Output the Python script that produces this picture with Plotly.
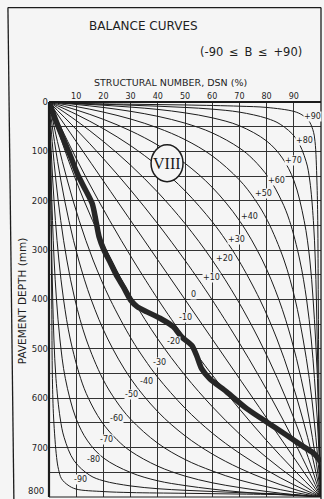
import plotly.graph_objects as go

# ---- data: structural number DSN (%) against pavement depth (mm) ----
BALANCE_NUMBERS = [90, 80, 70, 60, 50, 40, 30, 20, 10, 0,
                   -10, -20, -30, -40, -50, -60, -70, -80, -90]
BALANCE_LABELS = ["+90", "+80", "+70", "+60", "+50", "+40", "+30", "+20", "+10", "0",
                  "-10", "-20", "-30", "-40", "-50", "-60", "-70", "-80", "-90"]

B_P90 = [(0, 0), (10, 3), (30, 4.5), (50, 6), (70, 8.5), (80, 11), (90, 19), (93, 26),
         (95.4, 37), (97, 56), (97.8, 80), (98.5, 160), (98.8, 240), (99, 400), (99.2, 560),
         (99.4, 700), (100, 800)]
B_P80 = [(0, 0), (10, 2.5), (20, 4.5), (30, 6.5), (40, 8.5), (50, 11), (60, 14.5), (70, 20.5), (80, 33),
         (85, 45), (90.8, 73.6), (94.5, 120), (95.9, 160), (97.2, 240), (97.9, 320), (98.3, 400),
         (98.6, 480), (98.9, 560), (99.1, 640), (99.4, 720), (100, 800)]
B_P70 = [(0, 0), (10, 3.5), (20, 6.5), (30, 10.3), (40, 15), (50, 22), (60, 32), (70, 48.1), (80, 79),
         (85.8, 113.6), (90.1, 160), (93.8, 240), (95.9, 320), (97.1, 400), (98, 480), (98.7, 560),
         (99.2, 640), (99.6, 720), (100, 800)]
B_P60 = [(0, 0), (10, 5), (20, 11.1), (30, 18.9), (40, 29), (50, 42.8), (60, 62.5), (70, 93.1), (75, 115.9),
         (80.8, 153.6), (85.5, 200), (88.4, 240), (92.2, 320), (94.7, 400), (96.4, 480), (97.6, 560),
         (98.6, 640), (99.4, 720), (100, 800)]
B_P50 = [(0, 0), (10, 9.25), (20, 20.5), (30, 34.5), (40, 52.5), (50, 76.2), (60, 109.1), (70, 157.8),
         (75.5, 196), (80.3, 240), (86.4, 320), (90.5, 400), (93.4, 480), (95.7, 560), (97.4, 640),
         (98.8, 720), (100, 800)]
B_P40 = [(0, 0), (10, 16), (20, 35.1), (30, 58.4), (40, 87.3), (50, 124.2), (60, 172.8), (70, 240),
         (78.4, 320), (84.5, 400), (89.1, 480), (92.7, 560), (95.6, 640), (98, 720), (100, 800)]
B_P30 = [(0, 0), (10, 25), (20, 54.1), (30, 88.4), (40, 129.6), (50, 179.8), (60, 242.4), (65, 280),
         (69.7, 320), (77.5, 400), (83.8, 480), (88.9, 560), (93.2, 640), (96.9, 720), (100, 800)]
B_P20 = [(0, 0), (10, 37.6), (20, 80), (30, 128), (40, 182.9), (50, 246.2), (60, 320), (69.2, 400),
         (77.1, 480), (84, 560), (90, 640), (95.3, 720), (100, 800)]
B_P10 = [(0, 0), (10, 55.4), (20, 114.7), (30, 178.3), (40, 246.8), (50, 320.8), (55, 360), (59.9, 400),
         (69.1, 480), (77.7, 560), (85.7, 640), (93.1, 720), (100, 800)]
B_0 = [(0, 0), (50, 400), (100, 800)]
B_M10 = [(0, 0), (6.9, 80), (14.3, 160), (22.3, 240), (30.9, 320), (40.1, 400), (45, 440), (50, 479.2),
         (60, 552.8), (70, 621.6), (80, 685.6), (90, 744.8), (100, 800)]
B_M20 = [(0, 0), (4.7, 80), (10, 160), (16, 240), (22.9, 320), (30.8, 400), (40, 480), (50, 553.6),
         (60, 616.8), (70, 672), (80, 720), (90, 762.4), (100, 800)]
B_M30 = [(0, 0), (3.1, 80), (6.8, 160), (11.1, 240), (16.2, 320), (22.5, 400), (30.3, 480), (35, 520),
         (40, 557.6), (50, 620), (60, 670.4), (70, 711.2), (80, 745.6), (90, 775.2), (100, 800)]
B_M40 = [(0, 0), (2, 80), (4.4, 160), (7.3, 240), (10.9, 320), (15.5, 400), (21.6, 480), (30, 560),
         (40, 627.2), (50, 676), (60, 712.8), (70, 741.6), (80, 764.8), (90, 784), (100, 800)]
B_M50 = [(0, 0), (1.16, 80), (2.56, 160), (4.31, 240), (6.56, 320), (9.53, 400), (13.64, 480), (19.7, 560),
         (24.5, 604), (30, 642.4), (40, 691.2), (50, 724), (60, 747.2), (70, 765.6), (80, 779.2),
         (90, 790.4), (100, 800)]
B_M60 = [(0, 0), (0.62, 80), (1.39, 160), (2.36, 240), (3.63, 320), (5.35, 400), (7.81, 480), (11.64, 560),
         (14.49, 600), (19.2, 646.4), (25, 684), (30, 707.2), (40, 737.6), (50, 757.6), (60, 771.2),
         (70, 780.8), (80, 788.8), (90, 795.2), (100, 800)]
B_M70 = [(0, 0), (0.44, 80), (0.81, 160), (1.29, 240), (1.88, 320), (2.75, 400), (4, 480), (6.01, 560),
         (9.87, 640), (14.2, 686.4), (20, 720.8), (30, 750.4), (40, 767.2), (50, 776.8), (60, 784),
         (70, 789.6), (80, 793.6), (90, 796.8), (100, 800)]
B_M80 = [(0, 0), (0.31, 80), (0.56, 160), (0.81, 240), (1.06, 320), (1.37, 400), (1.81, 480), (2.56, 560),
         (4.1, 640), (5.6, 680), (9.2, 726.4), (15, 756), (20, 767.2), (30, 777.6), (40, 783.2),
         (50, 786.4), (60, 788.8), (70, 791.2), (80, 792.8), (90, 795.2), (100, 800)]
B_M90 = [(0, 0), (0.5, 80), (0.75, 240), (1.0, 400), (1.25, 560), (1.7, 640), (2.8, 720), (3.5, 744),
         (4.6, 763), (7, 776), (10, 784), (20, 789), (30, 791), (50, 792.5), (70, 794), (90, 796),
         (100, 800)]

BALANCE_CURVES = [B_P90, B_P80, B_P70, B_P60, B_P50, B_P40, B_P30, B_P20, B_P10, B_0,
                  B_M10, B_M20, B_M30, B_M40, B_M50, B_M60, B_M70, B_M80, B_M90]

# measured DCP profile (heavy line)
PROFILE_DSN = [0, 2.7, 5.5, 8, 10.4, 13.5, 15.9, 17.2, 18.4, 20.2, 22.7, 25.1, 27.6, 30, 32.5, 36,
               40.8, 45.7, 48.8, 52.5, 54.3, 56.1, 59.2, 65.3, 72.7, 80, 87.4, 93.8, 97.4, 99.9]
PROFILE_DEPTH = [0, 40, 78, 111, 145, 179, 206, 239, 273, 300, 327, 354, 377, 401, 415, 425,
                 438, 455, 476, 493, 514, 540, 561, 587, 621, 648, 675, 699, 712, 729]

DSN_TICKS = [10, 20, 30, 40, 50, 60, 70, 80, 90]
DEPTH_TICKS = [0, 100, 200, 300, 400, 500, 600, 700]
DEPTH_MAX = 800

# label anchor points (DSN %, depth mm) for the curve numbers
LABEL_POS = [(96.7, 30), (94.1, 78), (89.8, 118), (83.7, 158), (79.0, 186), (73.6, 232), (69.0, 279),
             (64.7, 316), (59.8, 356), (53.0, 389), (50.0, 436), (45.7, 486), (40.8, 528), (35.9, 567),
             (30.4, 593), (24.9, 642), (21.0, 683), (16.5, 725), (11.4, 764)]

# ---- styling ----
BG = "#f5f5f5"
INK = "#1c1c1c"
GRID = "#333333"
TEXT = "#1e1e1e"
FONT = "DejaVu Sans"

fig = go.Figure()

for b, pts in zip(BALANCE_NUMBERS, BALANCE_CURVES):
    fig.add_trace(go.Scatter(
        x=[p[0] for p in pts], y=[p[1] for p in pts], mode="lines",
        line=dict(color=INK, width=1, shape="spline", smoothing=1.0),
        name=f"B = {b}", hoverinfo="skip", showlegend=False))

fig.add_trace(go.Scatter(
    x=PROFILE_DSN, y=PROFILE_DEPTH, mode="lines",
    line=dict(color="#262626", width=5.5, shape="spline", smoothing=0.7),
    hoverinfo="skip", showlegend=False))

fig.update_layout(
    width=324, height=499, autosize=False,
    margin=dict(l=49, r=3, t=101.5, b=2, pad=0),
    paper_bgcolor=BG, plot_bgcolor=BG,
    showlegend=False,
    font=dict(family=FONT, color=TEXT),
    xaxis=dict(range=[0, 100], side="top", tickmode="array", tickvals=DSN_TICKS,
               ticktext=[str(v) for v in DSN_TICKS], ticks="", showline=False, zeroline=False,
               showgrid=True, gridcolor=GRID, gridwidth=1, automargin=False,
               tickfont=dict(family=FONT, size=8, color=TEXT), fixedrange=True),
    yaxis=dict(range=[DEPTH_MAX, 0], tickmode="array", tickvals=DEPTH_TICKS,
               ticktext=[str(v) for v in DEPTH_TICKS], ticks="", showline=False, zeroline=False,
               showgrid=True, gridcolor=GRID, gridwidth=1, automargin=False,
               minor=dict(tick0=0, dtick=50, showgrid=True, gridcolor=GRID, gridwidth=1),
               tickfont=dict(family=FONT, size=8.5, color=TEXT), fixedrange=True),
)

shapes = [
    # outer frame
    dict(type="line", xref="paper", yref="paper", x0=-0.151, y0=1.239, x1=1.0, y1=1.239,
         line=dict(color=INK, width=1.3)),
    dict(type="line", xref="paper", yref="paper", x0=-0.151, y0=1.239, x1=-0.129, y1=-0.01,
         line=dict(color=INK, width=1.3)),
    dict(type="line", xref="paper", yref="paper", x0=1.0, y0=1.239, x1=1.0, y1=-0.01,
         line=dict(color=INK, width=1.3)),
    # plot edges
    dict(type="line", xref="paper", yref="paper", x0=0, y0=1, x1=1, y1=1,
         line=dict(color=INK, width=2.2)),
    dict(type="line", xref="paper", yref="paper", x0=0, y0=0, x1=0, y1=1,
         line=dict(color=INK, width=2.2)),
    dict(type="line", xref="paper", yref="paper", x0=0, y0=0, x1=1, y1=0,
         line=dict(color=INK, width=1)),
    # zone marker
    dict(type="circle", xref="x", yref="y", xsizemode="pixel", ysizemode="pixel",
         xanchor=43.4, yanchor=124, x0=-16, x1=16, y0=-18.5, y1=18.5,
         fillcolor=BG, line=dict(color=INK, width=1.5), layer="above"),
]
fig.update_layout(shapes=shapes)

ann = [
    dict(text="BALANCE CURVES", xref="paper", yref="paper", x=0.3456, y=1.193,
         showarrow=False, font=dict(size=12, family=FONT, color=TEXT),
         xanchor="center", yanchor="middle"),
    dict(text="(-90\u2002≤\u2002B\u2002≤\u2002+90)", xref="paper", yref="paper", x=0.9375, y=1.1264,
         showarrow=False, font=dict(size=11.5, family=FONT, color=TEXT),
         xanchor="right", yanchor="middle"),
    dict(text="STRUCTURAL NUMBER, DSN (%)", xref="paper", yref="paper", x=0.4449, y=1.0493,
         showarrow=False, font=dict(size=9.5, family=FONT, color=TEXT),
         xanchor="center", yanchor="middle"),
    dict(text="PAVEMENT DEPTH (mm)", xref="paper", yref="paper", x=-0.0993, y=0.498,
         showarrow=False, textangle=-90, font=dict(size=10.5, family=FONT, color=TEXT),
         xanchor="center", yanchor="middle"),
    dict(text="VIII", xref="x", yref="y", x=43.4, y=124, showarrow=False,
         font=dict(size=16, family="Liberation Serif", color="#1a1a1a"),
         xanchor="center", yanchor="middle"),
    # bottom depth label, kept just above the lower edge of the page
    dict(text=str(DEPTH_MAX), xref="paper", yref="y", x=-0.012, y=DEPTH_MAX, showarrow=False,
         font=dict(size=8.5, family=FONT, color=TEXT), xanchor="right", yanchor="bottom",
         yshift=-1),
]
for lab, (lx, ly) in zip(BALANCE_LABELS, LABEL_POS):
    ann.append(dict(text=lab, x=lx, y=ly, xref="x", yref="y", showarrow=False,
                    font=dict(size=8, family=FONT, color=TEXT),
                    bgcolor=BG, borderpad=0, xanchor="center", yanchor="middle"))
fig.update_layout(annotations=ann)

fig.write_html("out.html")
